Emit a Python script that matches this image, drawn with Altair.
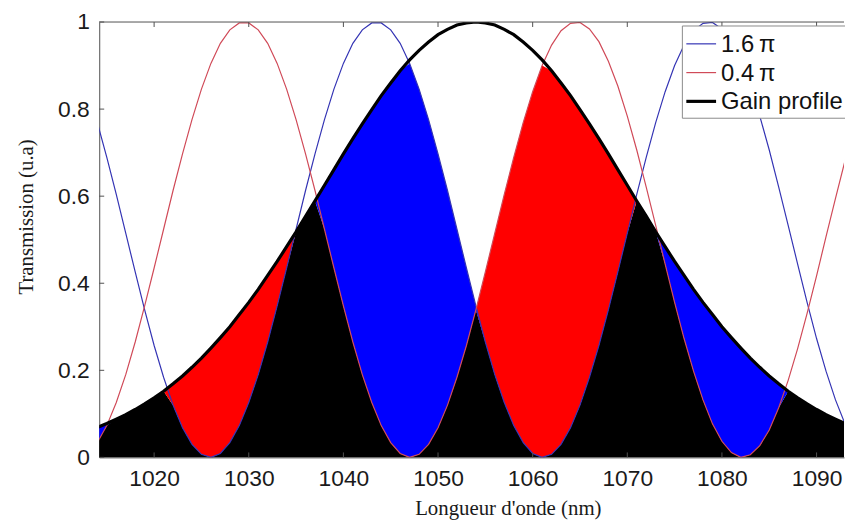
import altair as alt
import pandas as pd
import numpy as np

# ---- data (1 nm grid) ----
wavelengths = list(range(1014, 1095))

t_blue = [0.769, 0.689, 0.604, 0.515, 0.426, 0.339, 0.257, 0.184, 0.120, 0.068, 0.030, 0.007,
          0.000, 0.009, 0.034, 0.073, 0.126, 0.190, 0.265, 0.348, 0.435, 0.524, 0.613, 0.697,
          0.776, 0.846, 0.905, 0.951, 0.982, 0.998,
          0.998, 0.982, 0.951, 0.905, 0.846, 0.776, 0.697, 0.613, 0.524, 0.435, 0.348, 0.265,
          0.190, 0.126, 0.073, 0.034, 0.009, 0.000,
          0.007, 0.030, 0.068, 0.120, 0.184, 0.257, 0.339, 0.426, 0.515, 0.604, 0.689, 0.769,
          0.840, 0.900, 0.947, 0.980, 0.997,
          0.999, 0.984, 0.955, 0.910, 0.853, 0.784, 0.706, 0.621, 0.533, 0.444, 0.356, 0.273,
          0.198, 0.132, 0.077, 0.037]

t_red = [0.034, 0.073, 0.126, 0.190, 0.265, 0.348, 0.435, 0.524, 0.613, 0.697, 0.776, 0.846,
         0.905, 0.951, 0.982, 0.998,
         0.998, 0.982, 0.951, 0.905, 0.846, 0.776, 0.697, 0.613, 0.524, 0.435, 0.348, 0.265,
         0.190, 0.126, 0.073, 0.034, 0.009, 0.000,
         0.007, 0.030, 0.068, 0.120, 0.184, 0.257, 0.339, 0.426, 0.515, 0.604, 0.689, 0.769,
         0.840, 0.900, 0.947, 0.980, 0.997,
         0.999, 0.984, 0.955, 0.910, 0.853, 0.784, 0.706, 0.621, 0.533, 0.444, 0.356, 0.273,
         0.198, 0.132, 0.077, 0.037, 0.011, 0.000,
         0.006, 0.027, 0.063, 0.114, 0.177, 0.250, 0.331, 0.417, 0.507, 0.595, 0.681, 0.761]

gain = [0.069, 0.078, 0.088, 0.098, 0.110, 0.123, 0.137, 0.152, 0.169, 0.187, 0.207, 0.228,
        0.251, 0.275, 0.300, 0.328, 0.356, 0.386, 0.418, 0.450, 0.484, 0.518, 0.554, 0.589,
        0.625, 0.661, 0.697, 0.732, 0.766, 0.799, 0.831, 0.860, 0.888, 0.913, 0.935, 0.954,
        0.971, 0.983, 0.993, 0.998, 1.000,
        0.998, 0.993, 0.983, 0.971, 0.954, 0.935, 0.913, 0.888, 0.860, 0.831, 0.799, 0.766,
        0.732, 0.697, 0.661, 0.625, 0.589, 0.554, 0.518, 0.484, 0.450, 0.418, 0.386, 0.356,
        0.328, 0.300, 0.275, 0.251, 0.228, 0.207, 0.187, 0.169, 0.152, 0.137, 0.123, 0.110,
        0.098, 0.088, 0.078, 0.069]

series_names = ["1.6\u2009\u03c0", "0.4\u2009\u03c0", "Gain profile"]
series_colors = ["#3434b4", "#d04a58", "#000000"]
series_widths = [1.2, 1.2, 3.2]

x_ticks = [1020, 1030, 1040, 1050, 1060, 1070, 1080, 1090]
y_ticks = [0, 0.2, 0.4, 0.6, 0.8, 1.0]

W, H = 751, 439
PAD_TOP = 12
FRAME = "#505050"
TXT = "#1a1a1a"

# ---- derived tables ----
r = np.array(t_red)
b = np.array(t_blue)
g = np.array(gain)
lo = np.minimum(np.minimum(r, b), g)
red_top = np.where(r > b, np.minimum(r, g), lo)
blue_top = np.where(b > r, np.minimum(b, g), lo)

fills = pd.DataFrame({"wl": wavelengths, "lo": lo, "red_top": red_top, "blue_top": blue_top})
curves = [pd.DataFrame({"wl": wavelengths, "value": v}) for v in (t_blue, t_red, gain)]

xscale = alt.Scale(domain=[1014.2, 1092.9], nice=False, zero=False)
yscale = alt.Scale(domain=[0, 1], nice=False)

common_axis = dict(ticks=False, grid=False, domain=True, domainColor=FRAME, labelPadding=10,
                   labelFont="Liberation Sans", labelFontSize=23, labelColor=TXT,
                   titleFont="Liberation Serif", titleFontSize=21, titleFontWeight="normal",
                   titleColor=TXT, titleAlign="center", titleBaseline="alphabetic")
xaxis = alt.Axis(values=x_ticks, format="d", title="Longueur d'onde (nm)",
                 titleX=412, titleY=58, **common_axis)
yaxis = alt.Axis(values=y_ticks, format=".1~f", title="Transmission (u.a)",
                 titleX=-67, titleY=196, titleAngle=270, **common_axis)

X = alt.X("wl:Q", scale=xscale, axis=xaxis)

black = alt.Chart(fills).mark_area(color="#000000", clip=True).encode(
    x=X, y=alt.Y("lo:Q", scale=yscale, axis=yaxis))
red_area = alt.Chart(fills).mark_area(color="#ff0000", clip=True).encode(
    x=X, y=alt.Y("lo:Q", scale=yscale, axis=yaxis), y2="red_top:Q")
blue_area = alt.Chart(fills).mark_area(color="#0000ff", clip=True).encode(
    x=X, y=alt.Y("lo:Q", scale=yscale, axis=yaxis), y2="blue_top:Q")

line_layers = [
    alt.Chart(df).mark_line(clip=True, color=c, strokeWidth=w).encode(
        x=X, y=alt.Y("value:Q", scale=yscale, axis=yaxis))
    for df, c, w in zip(curves, series_colors, series_widths)
]

# ---- ticks drawn inside the frame (MATLAB style) ----
xt = pd.DataFrame({"wl": x_ticks})
yt = pd.DataFrame({"value": y_ticks})
ticks_bottom = alt.Chart(xt).mark_rule(color=FRAME).encode(
    x=X, y=alt.value(H), y2=alt.value(H - 5))
ticks_top = alt.Chart(xt).mark_rule(color=FRAME).encode(
    x=X, y=alt.value(0), y2=alt.value(5))
ticks_left = alt.Chart(yt).mark_rule(color=FRAME).encode(
    y=alt.Y("value:Q", scale=yscale, axis=yaxis), x=alt.value(0), x2=alt.value(5))
one = pd.DataFrame({"a": [0]})
top_line = alt.Chart(one).mark_rule(color=FRAME).encode(
    x=alt.value(0), x2=alt.value(W), y=alt.value(0))

# ---- legend box (cropped at the right edge, as in the reference) ----
LX, LY = 588, 4
legend_box = alt.Chart(one).mark_rect(fill="white", stroke="#8a8a8a", strokeWidth=1).encode(
    x=alt.value(LX), x2=alt.value(W + 20), y=alt.value(LY), y2=alt.value(LY + 93))
legend_parts = [legend_box]
for i, (name, c, w) in enumerate(zip(series_names, series_colors, series_widths)):
    yc = LY + 18 + 29 * i
    legend_parts.append(
        alt.Chart(one).mark_rule(color=c, strokeWidth=w).encode(
            x=alt.value(LX + 4), x2=alt.value(LX + 34), y=alt.value(yc)))
    legend_parts.append(
        alt.Chart(one).mark_text(text=name, align="left", baseline="middle",
                                 font="Liberation Sans", fontSize=24, color="#111111").encode(
            x=alt.value(LX + 39), y=alt.value(yc + 1)))

chart = alt.layer(
    black, red_area, blue_area, *line_layers, ticks_bottom, ticks_top, ticks_left, top_line,
    *legend_parts
).properties(
    width=W, height=H,
    padding={"left": 92, "top": PAD_TOP, "right": 1, "bottom": 62},
    autosize=alt.AutoSizeParams(type="none"),
    background="white",
).configure_view(stroke=None)

chart.save("out.html", embed_options={"renderer": "svg", "actions": False})
